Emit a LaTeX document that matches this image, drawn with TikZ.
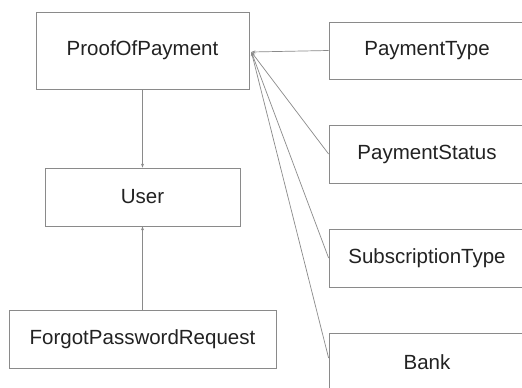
\documentclass[tikz,border=0pt]{standalone}
\usepackage{fontspec}
\setmainfont{Liberation Sans}
\usetikzlibrary{arrows.meta}
\definecolor{edgegray}{HTML}{8A8A8A}
\definecolor{textgray}{HTML}{222222}
\tikzset{
  entity/.style={draw=edgegray, line width=0.8pt, rectangle, inner sep=0pt,
    font=\fontsize{20.5}{24}\selectfont, text=textgray},
  link/.style={draw=edgegray, line width=0.7pt,
    -{Stealth[length=4pt,width=3pt]}}
}
\begin{document}
\begin{tikzpicture}[x=1pt,y=-1pt]
  \useasboundingbox (0,0) rectangle (522,388);
  \clip (0,0) rectangle (522,388);
  \fill[white] (0,0) rectangle (522,388);

  % left column
  \node[entity, minimum width=213pt, minimum height=77pt] (pop) at (142.5,50.5) {ProofOfPayment};
  \node[entity, minimum width=195pt, minimum height=58pt] (user) at (142.5,197) {User};
  \node[entity, minimum width=267pt, minimum height=58pt] (forgot) at (142.5,339) {ForgotPasswordRequest};

  % right column (boxes run past the right edge)
  \node[entity, minimum width=196pt, minimum height=57pt] (ptype) at (427,50.5) {PaymentType};
  \node[entity, minimum width=196pt, minimum height=58pt] (pstatus) at (427,154) {PaymentStatus};
  \node[entity, minimum width=196pt, minimum height=58pt] (stype) at (427,258) {SubscriptionType};
  \node[entity, minimum width=196pt, minimum height=58pt] (bank) at (427,362) {Bank};

  % connectors
  \coordinate (hub) at ([xshift=2pt,yshift=-1.5pt]pop.east);
  \draw[link] (ptype.west) -- (hub);
  \draw[link] (pstatus.west) -- (hub);
  \draw[link] (stype.west) -- (hub);
  \draw[link] ([yshift=4pt]bank.west) -- (hub);
  \draw[link] (pop.south) -- (user.north);
  \draw[link] (forgot.north) -- (user.south);
\end{tikzpicture}
\end{document}
